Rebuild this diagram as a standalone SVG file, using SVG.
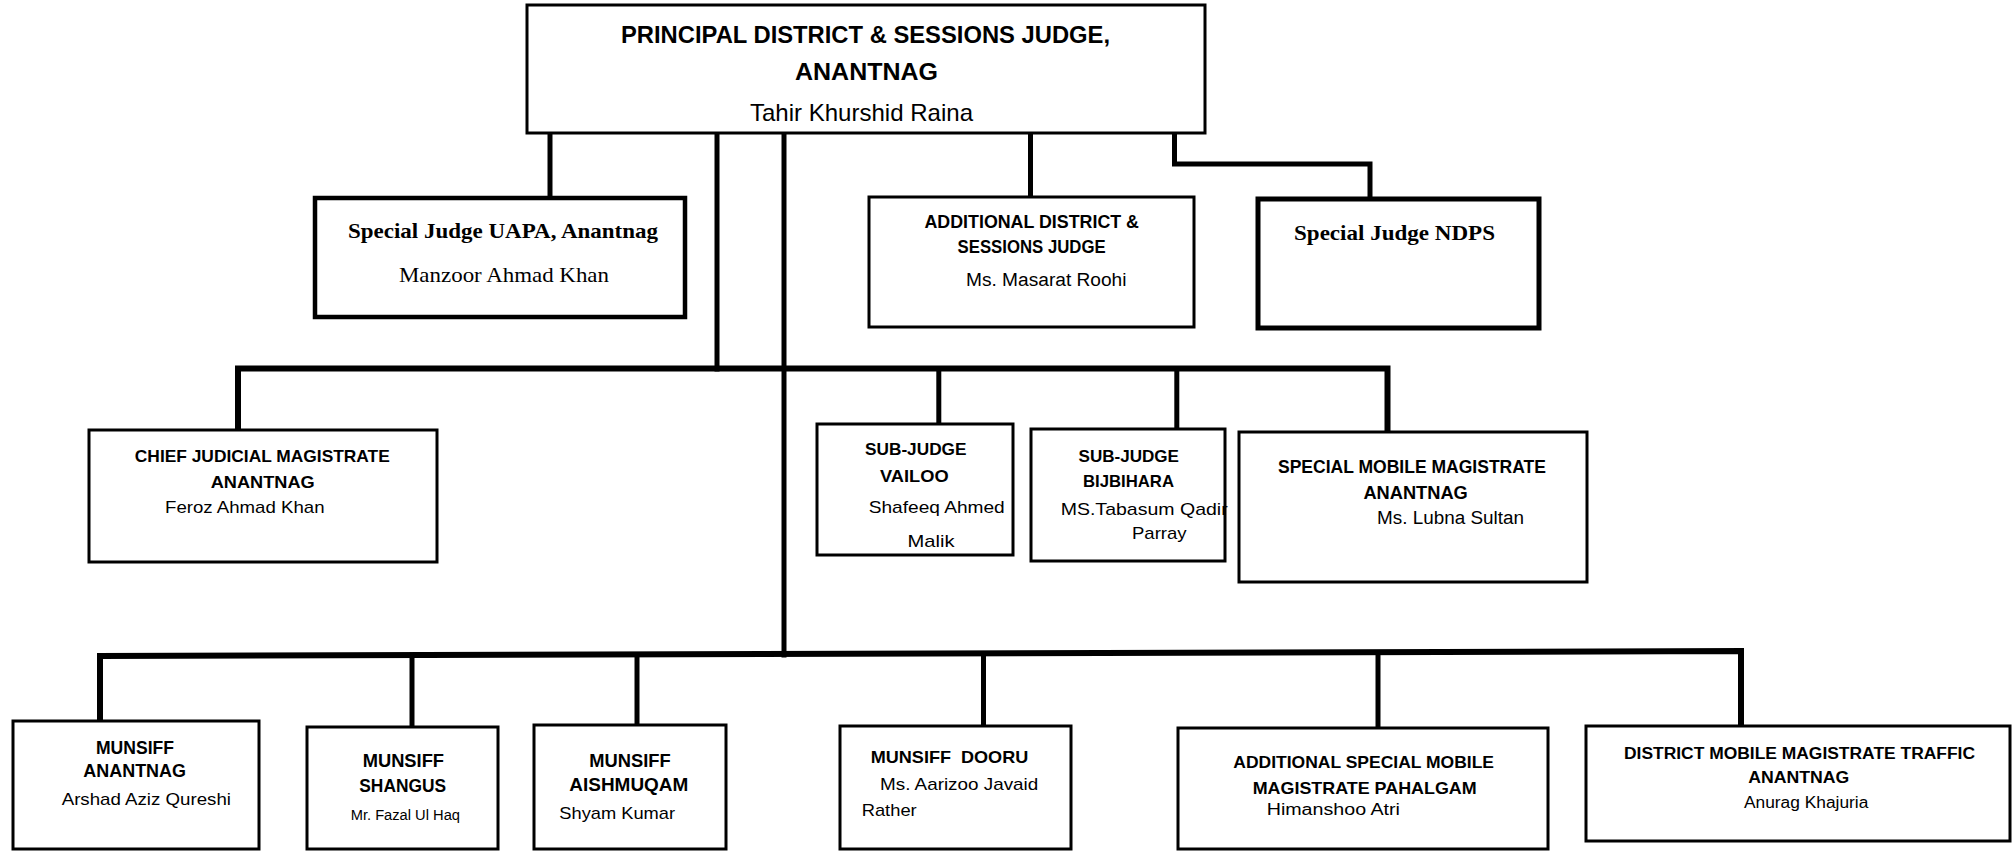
<svg xmlns="http://www.w3.org/2000/svg" width="2012" height="851" viewBox="0 0 2012 851">
<style>
.bg{fill:#fff}
.box{fill:#fff;stroke:#000;stroke-width:3}
.thick{stroke-width:5}
.c{fill:none;stroke:#000;stroke-width:5;stroke-linejoin:miter;stroke-linecap:square}
.bus{stroke-width:6}
text{fill:#000}
.hb{font-family:'Liberation Sans Narrow','Liberation Sans',Arial,sans-serif;font-weight:bold}
.hr{font-family:'Liberation Sans Narrow','Liberation Sans',Arial,sans-serif;font-weight:normal}
.sb{font-family:'Liberation Serif','Times New Roman',serif;font-weight:bold;font-size:21px}
.sr{font-family:'Liberation Serif','Times New Roman',serif;font-weight:normal;font-size:21px}
.f24{font-size:24px}
.f18{font-size:18px}
.f17{font-size:17px}
.f16{font-size:16px}
.f14{font-size:14px}
</style>
<rect class="bg" x="0" y="0" width="2012" height="851"/>
<g id="connectors">
<path class="c" d="M550,133 V198"/>
<path class="c" d="M1030.5,133 V197"/>
<path class="c" d="M1174.5,133 V164 H1370 V199"/>
<path class="c" d="M717,133 V369"/>
<path class="c" d="M784,133 V655"/>
<path class="c bus" d="M238,430 V368.5 H1387.5 V432"/>
<path class="c" d="M938.8,368.5 V424"/>
<path class="c" d="M1176.8,368.5 V429"/>
<path class="c bus" d="M100,721 V656 L1741,651 V726"/>
<path class="c" d="M412,655 V727"/>
<path class="c" d="M637,654.5 V725"/>
<path class="c" d="M983.5,653.5 V726"/>
<path class="c" d="M1378,652.5 V728"/>
</g>
<g id="principal">
<rect class="box" x="527" y="5" width="678" height="128"/>
<text class="hb f24" x="621" y="43" textLength="489" lengthAdjust="spacingAndGlyphs">PRINCIPAL DISTRICT &amp; SESSIONS JUDGE,</text>
<text class="hb f24" x="795" y="80" textLength="143" lengthAdjust="spacingAndGlyphs">ANANTNAG</text>
<text class="hr f24" x="750" y="121" textLength="223" lengthAdjust="spacingAndGlyphs">Tahir Khurshid Raina</text>
</g>
<g id="uapa">
<rect class="box" x="315" y="198" width="370" height="119" style="stroke-width:4.5"/>
<text class="sb" x="348" y="238" textLength="310" lengthAdjust="spacingAndGlyphs">Special Judge UAPA, Anantnag</text>
<text class="sr" x="399" y="282" textLength="210" lengthAdjust="spacingAndGlyphs">Manzoor Ahmad Khan</text>
</g>
<g id="adj">
<rect class="box" x="869" y="197" width="325" height="130"/>
<text class="hb f18" x="924.5" y="228" textLength="214.5" lengthAdjust="spacingAndGlyphs">ADDITIONAL DISTRICT &amp;</text>
<text class="hb f18" x="957.6" y="253" textLength="148" lengthAdjust="spacingAndGlyphs">SESSIONS JUDGE</text>
<text class="hr f18" x="966" y="286" textLength="160.5" lengthAdjust="spacingAndGlyphs">Ms. Masarat Roohi</text>
</g>
<g id="ndps">
<rect class="box thick" x="1258" y="199" width="281" height="129"/>
<text class="sb" x="1294" y="240" textLength="201" lengthAdjust="spacingAndGlyphs">Special Judge NDPS</text>
</g>
<g id="cjm">
<rect class="box" x="89" y="430" width="348" height="132"/>
<text class="hb f17" x="134.8" y="462" textLength="255" lengthAdjust="spacingAndGlyphs">CHIEF JUDICIAL MAGISTRATE</text>
<text class="hb f17" x="210.7" y="488" textLength="104" lengthAdjust="spacingAndGlyphs">ANANTNAG</text>
<text class="hr f17" x="165" y="513" textLength="159.5" lengthAdjust="spacingAndGlyphs">Feroz Ahmad Khan</text>
</g>
<g id="subjudge-vailoo">
<rect class="box" x="817" y="424" width="196" height="131"/>
<text class="hb f17" x="865" y="455" textLength="101.5" lengthAdjust="spacingAndGlyphs">SUB-JUDGE</text>
<text class="hb f17" x="880" y="482" textLength="68.6" lengthAdjust="spacingAndGlyphs">VAILOO</text>
<text class="hr f17" x="868.7" y="513" textLength="136" lengthAdjust="spacingAndGlyphs">Shafeeq Ahmed</text>
<text class="hr f17" x="907.6" y="547" textLength="47" lengthAdjust="spacingAndGlyphs">Malik</text>
</g>
<g id="subjudge-bijbihara">
<rect class="box" x="1031" y="429" width="194" height="132"/>
<text class="hb f17" x="1078.5" y="462" textLength="100.5" lengthAdjust="spacingAndGlyphs">SUB-JUDGE</text>
<text class="hb f17" x="1083" y="487" textLength="91" lengthAdjust="spacingAndGlyphs">BIJBIHARA</text>
<text class="hr f17" x="1060.7" y="515" textLength="167" lengthAdjust="spacingAndGlyphs">MS.Tabasum Qadir</text>
<text class="hr f17" x="1132" y="539" textLength="54.6" lengthAdjust="spacingAndGlyphs">Parray</text>
</g>
<g id="smm">
<rect class="box" x="1239" y="432" width="348" height="150"/>
<text class="hb f18" x="1278" y="473" textLength="268" lengthAdjust="spacingAndGlyphs">SPECIAL MOBILE MAGISTRATE</text>
<text class="hb f18" x="1363.4" y="499" textLength="104.4" lengthAdjust="spacingAndGlyphs">ANANTNAG</text>
<text class="hr f18" x="1377" y="524" textLength="147" lengthAdjust="spacingAndGlyphs">Ms. Lubna Sultan</text>
</g>
<g id="munsiff-anantnag">
<rect class="box" x="13" y="721" width="246" height="128"/>
<text class="hb f18" x="96" y="754" textLength="78" lengthAdjust="spacingAndGlyphs">MUNSIFF</text>
<text class="hb f18" x="83.3" y="777" textLength="102.7" lengthAdjust="spacingAndGlyphs">ANANTNAG</text>
<text class="hr f17" x="61.7" y="805" textLength="169.3" lengthAdjust="spacingAndGlyphs">Arshad Aziz Qureshi</text>
</g>
<g id="munsiff-shangus">
<rect class="box" x="307" y="727" width="191" height="122"/>
<text class="hb f18" x="362.7" y="767" textLength="81.3" lengthAdjust="spacingAndGlyphs">MUNSIFF</text>
<text class="hb f18" x="359.3" y="792" textLength="86.7" lengthAdjust="spacingAndGlyphs">SHANGUS</text>
<text class="hr f14" x="350.7" y="820" textLength="109.3" lengthAdjust="spacingAndGlyphs">Mr. Fazal Ul Haq</text>
</g>
<g id="munsiff-aishmuqam">
<rect class="box" x="534" y="725" width="192" height="124"/>
<text class="hb f18" x="589.3" y="767" textLength="81.3" lengthAdjust="spacingAndGlyphs">MUNSIFF</text>
<text class="hb f18" x="569.3" y="791" textLength="119" lengthAdjust="spacingAndGlyphs">AISHMUQAM</text>
<text class="hr f17" x="559.3" y="819" textLength="115.7" lengthAdjust="spacingAndGlyphs">Shyam Kumar</text>
</g>
<g id="munsiff-dooru">
<rect class="box" x="840" y="726" width="231" height="123"/>
<text class="hb f17" x="870.7" y="763" textLength="157.6" lengthAdjust="spacingAndGlyphs" style="white-space:pre">MUNSIFF  DOORU</text>
<text class="hr f17" x="880" y="790" textLength="158.3" lengthAdjust="spacingAndGlyphs">Ms. Aarizoo Javaid</text>
<text class="hr f17" x="861.7" y="816" textLength="55" lengthAdjust="spacingAndGlyphs">Rather</text>
</g>
<g id="asmm-pahalgam">
<rect class="box" x="1178" y="728" width="370" height="121"/>
<text class="hb f17" x="1233.3" y="768" textLength="260.7" lengthAdjust="spacingAndGlyphs">ADDITIONAL SPECIAL MOBILE</text>
<text class="hb f17" x="1252.7" y="794" textLength="224" lengthAdjust="spacingAndGlyphs">MAGISTRATE PAHALGAM</text>
<text class="hr f16" x="1266.7" y="815" textLength="133.3" lengthAdjust="spacingAndGlyphs">Himanshoo Atri</text>
</g>
<g id="dmm-traffic">
<rect class="box" x="1586" y="726" width="424" height="115"/>
<text class="hb f16" x="1624" y="759" textLength="351" lengthAdjust="spacingAndGlyphs">DISTRICT MOBILE MAGISTRATE TRAFFIC</text>
<text class="hb f16" x="1748.3" y="783" textLength="101" lengthAdjust="spacingAndGlyphs">ANANTNAG</text>
<text class="hr f16" x="1744" y="808" textLength="124.3" lengthAdjust="spacingAndGlyphs">Anurag Khajuria</text>
</g>
</svg>
